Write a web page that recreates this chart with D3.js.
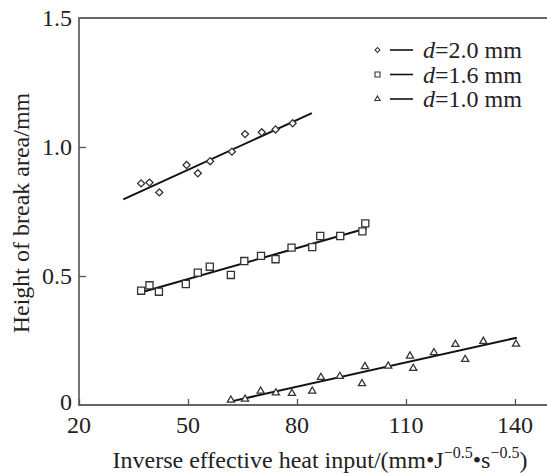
<!DOCTYPE html>
<html lang="en">
<head>
  <meta charset="UTF-8">
  <title>Height of break area</title>
  <script src="https://d3js.org/d3.v7.min.js"></script>
  <style>
    body {
      margin: 0;
      background-color: #fff;
    }
    svg text {
      font-family: 'Liberation Serif', 'Times New Roman', serif;
      fill: #222;
    }
  </style>
</head>
<body>
  <svg width="547" height="473"></svg>

  <script>
    // d = 2.0 mm (diamonds)
    const d20X = [37.1, 39.4, 42.1, 49.6, 52.7, 56.1, 62.1, 65.7, 70.3, 74.1, 78.8];
    const d20Y = [0.859, 0.862, 0.824, 0.930, 0.898, 0.945, 0.982, 1.050, 1.057, 1.068, 1.092];
    const fit20 = [[32.2, 0.797], [84.1, 1.131]];

    // d = 1.6 mm (squares)
    const d16X = [37.1, 39.4, 42.0, 49.4, 52.7, 56.0, 61.8, 65.5, 70.1, 74.1, 78.5, 84.2, 86.4, 91.9, 98.0, 98.8];
    const d16Y = [0.443, 0.464, 0.439, 0.469, 0.513, 0.536, 0.504, 0.558, 0.578, 0.565, 0.610, 0.612, 0.655, 0.655, 0.673, 0.704];
    const fit16 = [[37.7, 0.439], [99.2, 0.685]];

    // d = 1.0 mm (triangles)
    const d10X = [61.8, 65.7, 70.0, 74.2, 78.6, 84.2, 86.6, 91.8, 97.9, 98.7, 105.1, 111.1, 112.0, 117.7, 123.6, 126.3, 131.3, 140.3];
    const d10Y = [0.019, 0.023, 0.054, 0.047, 0.045, 0.054, 0.107, 0.111, 0.083, 0.149, 0.151, 0.190, 0.142, 0.203, 0.235, 0.177, 0.247, 0.236];
    const fit10 = [[61.6, 0.013], [140.5, 0.261]];

    const xTicks = [20, 50, 80, 110, 140];
    const yTicks = [0, 0.5, 1.0, 1.5];
    const yTickLabels = ["0", "0.5", "1.0", "1.5"];
    const legendLabels = ["2.0 mm", "1.6 mm", "1.0 mm"];

    const svg = d3.select("svg");

    const x = d3.scaleLinear().domain([20, 150]).range([79, 551.3]);
    const y = d3.scaleLinear().domain([0, 1.5]).range([405, 18]);

    // frame (right side runs past the window)
    svg.append("path")
      .attr("d", `M${x(150)},${y(1.5)}H${x(20)}V${y(0)}H${x(150)}`)
      .attr("fill", "none")
      .attr("stroke", "#666")
      .attr("stroke-width", 1.8);

    // x ticks pointing inward
    svg.append("g")
      .attr("transform", `translate(0,${y(0)})`)
      .call(d3.axisBottom(x).tickValues(xTicks).tickSizeInner(-6).tickSizeOuter(0).tickFormat(""))
      .call(g => g.select(".domain").remove())
      .call(g => g.selectAll("line").attr("stroke", "#555").attr("stroke-width", 1.3));

    svg.append("g").selectAll("text")
      .data(xTicks)
      .enter().append("text")
      .attr("x", d => x(d))
      .attr("y", 433)
      .attr("text-anchor", "middle")
      .style("font-size", "24px")
      .text(d => d);

    // y ticks pointing inward
    svg.append("g")
      .attr("transform", `translate(${x(20)},0)`)
      .call(d3.axisLeft(y).tickValues(yTicks.slice(1, 3)).tickSizeInner(-7).tickSizeOuter(0).tickFormat(""))
      .call(g => g.select(".domain").remove())
      .call(g => g.selectAll("line").attr("stroke", "#555").attr("stroke-width", 1.3));

    svg.append("g").selectAll("text")
      .data(yTicks)
      .enter().append("text")
      .attr("x", 72)
      .attr("y", d => d === 0 ? y(d) - 3 : y(d))
      .attr("dy", "0.34em")
      .attr("text-anchor", "end")
      .style("font-size", "24px")
      .text((d, i) => yTickLabels[i]);

    // axis titles
    const xt = svg.append("text")
      .attr("x", 320)
      .attr("y", 468)
      .attr("text-anchor", "middle")
      .style("font-size", "24px");
    xt.append("tspan").text("Inverse effective heat input/(mm\u2022J");
    xt.append("tspan").attr("dy", -10).style("font-size", "16px").text("\u22120.5");
    xt.append("tspan").attr("dy", 10).text("\u2022s");
    xt.append("tspan").attr("dy", -10).style("font-size", "16px").text("\u22120.5");
    xt.append("tspan").attr("dy", 10).text(")");

    svg.append("text")
      .attr("transform", "translate(29,213) rotate(-90)")
      .attr("text-anchor", "middle")
      .style("font-size", "24px")
      .text("Height of break area/mm");

    // fit lines
    const line = d3.line().x(d => x(d[0])).y(d => y(d[1]));
    [fit20, fit16, fit10].forEach(f => {
      svg.append("path")
        .attr("d", line(f))
        .attr("fill", "none")
        .attr("stroke", "#111")
        .attr("stroke-width", 2);
    });

    // markers
    const diamond = d3.symbol().type(d3.symbolSquare).size(25);
    const square = d3.symbol().type(d3.symbolSquare).size(50);
    const triangle = d3.symbol().type(d3.symbolTriangle).size(22);

    function drawPoints(xs, ys, sym, rot) {
      svg.append("g").selectAll("path")
        .data(xs.map((v, i) => [v, ys[i]]))
        .enter().append("path")
        .attr("d", sym)
        .attr("transform", d => `translate(${x(d[0])},${y(d[1])}) rotate(${rot})`)
        .attr("fill", "#fff")
        .attr("stroke", "#333")
        .attr("stroke-width", 1.3);
    }
    drawPoints(d20X, d20Y, diamond, 45);
    drawPoints(d16X, d16Y, square, 0);
    drawPoints(d10X, d10Y, triangle, 0);

    // legend
    const legSyms = [
      d3.symbol().type(d3.symbolSquare).size(12),
      d3.symbol().type(d3.symbolSquare).size(25),
      d3.symbol().type(d3.symbolTriangle).size(12)
    ];
    const legRot = [45, 0, 0];
    const leg = svg.append("g");
    legendLabels.forEach((lab, i) => {
      const ly = 50 + i * 24.5;
      leg.append("path")
        .attr("d", legSyms[i]())
        .attr("transform", `translate(377.5,${ly}) rotate(${legRot[i]})`)
        .attr("fill", "#fff")
        .attr("stroke", "#333")
        .attr("stroke-width", 1.1);
      leg.append("line")
        .attr("x1", 390).attr("x2", 413)
        .attr("y1", ly).attr("y2", ly)
        .attr("stroke", "#111")
        .attr("stroke-width", 1.6);
      const t = leg.append("text")
        .attr("x", 423)
        .attr("y", ly + 8)
        .style("font-size", "24px");
      t.append("tspan").style("font-style", "italic").text("d");
      t.append("tspan").text("=" + lab);
    });
  </script>
</body>
</html>
